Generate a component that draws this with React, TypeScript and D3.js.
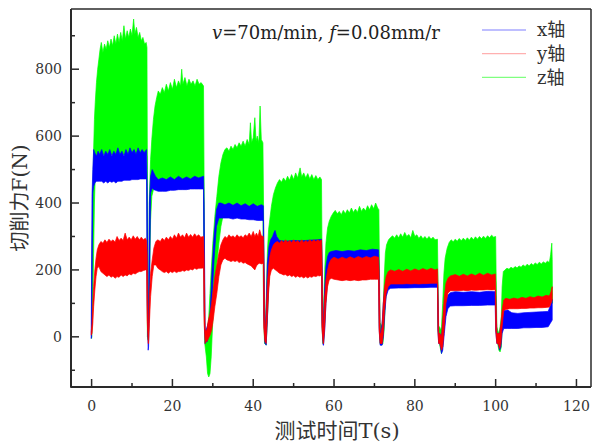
import React from "react";
import * as d3 from "d3";

// [time, low, high] envelopes of each force component
const xBand: number[][] = [
  [-0.1, -5, 5], [0.0, 0, 200], [0.1, 150, 420], [0.3, 430, 500], [0.5, 450, 560], [0.8, 460, 550],
  [1.2, 465, 540], [1.6, 465, 555], [2.0, 465, 545], [2.5, 465, 560], [3.0, 460, 540], [3.5, 465, 555],
  [4.0, 460, 545], [4.5, 465, 560], [5.0, 462, 540], [5.5, 465, 555], [6.0, 460, 545], [6.5, 465, 565],
  [7.0, 465, 545], [7.5, 465, 555], [8.0, 468, 540], [8.5, 468, 560], [9.0, 468, 545], [9.5, 468, 565],
  [10.0, 470, 550], [10.5, 470, 560], [11.0, 470, 545], [11.5, 470, 565], [12.0, 472, 550], [12.5, 472, 560],
  [13.0, 472, 550], [13.6, 472, 560], [13.75, 100, 450], [14.0, -40, 0],
  [14.1, -30, 50], [14.3, 100, 400], [14.6, 430, 480], [15.0, 445, 500], [15.4, 440, 490], [15.8, 438, 480],
  [16.5, 435, 470], [17.5, 435, 475], [18.5, 435, 470], [19.5, 438, 478], [20.5, 438, 470], [21.5, 440, 480],
  [22.5, 440, 472], [23.5, 440, 478], [24.5, 442, 472], [25.5, 442, 480], [26.5, 442, 475], [27.7, 442, 480],
  [27.85, 80, 400], [28.1, -20, 10],
  [28.3, -15, 20], [28.6, -15, 30], [29.3, 20, 60], [29.8, 120, 200], [30.3, 230, 300], [30.9, 330, 380],
  [31.5, 355, 400], [32.0, 355, 400], [33.0, 355, 395], [34.0, 355, 400], [35.0, 352, 393], [36.0, 355, 400],
  [37.0, 352, 392], [38.0, 352, 398], [39.0, 350, 390], [40.0, 350, 398], [41.0, 348, 390], [42.0, 348, 395],
  [42.5, 348, 392], [42.6, 60, 300], [42.9, -20, 10],
  [43.0, -20, 20], [43.2, -25, 80], [43.5, 50, 220], [43.9, 180, 270], [44.3, 240, 290], [44.8, 260, 300],
  [45.1, 270, 310], [45.4, 275, 318], [45.8, 265, 300], [46.5, 255, 288], [48.0, 255, 286], [50.0, 255, 288],
  [52.0, 255, 287], [54.0, 255, 289], [56.0, 255, 290], [56.9, 255, 292], [57.0, 40, 250], [57.3, -25, 10],
  [57.4, -25, 50], [57.7, 20, 150], [58.0, 100, 210], [58.4, 170, 240], [58.8, 215, 252], [59.3, 225, 255],
  [60.5, 228, 258], [62.0, 228, 255], [63.5, 228, 258], [65.0, 228, 256], [66.5, 230, 260], [68.0, 230, 258],
  [69.5, 230, 262], [71.0, 230, 260], [71.15, 30, 200], [71.4, -25, 10],
  [71.6, -25, 20], [71.9, -25, 40], [72.2, 0, 100], [72.5, 60, 140], [72.9, 120, 160], [73.4, 140, 165],
  [74.0, 145, 162], [76.0, 146, 160], [78.0, 146, 162], [80.0, 147, 160], [82.0, 147, 163], [84.0, 148, 162],
  [85.6, 148, 163], [85.7, 20, 140], [85.9, -20, 10],
  [86.2, -20, 10], [86.6, -50, 0], [86.9, -40, 40], [87.3, 10, 90], [87.7, 60, 110], [88.2, 85, 125],
  [88.8, 92, 132], [90.0, 93, 135], [92.0, 93, 133], [94.0, 94, 135], [96.0, 94, 133], [98.0, 95, 136],
  [99.9, 95, 135], [100.0, 20, 120], [100.3, -20, 10],
  [100.6, -20, 10], [101.0, -40, 10], [101.3, -30, 30], [101.6, 10, 55], [102.0, 25, 78], [103.0, 25, 80],
  [104.0, 25, 72], [105.5, 25, 70], [107.0, 27, 72], [108.5, 27, 73], [110.0, 28, 74], [111.5, 28, 75],
  [113.0, 30, 76], [113.5, 40, 92], [114.0, 50, 112],
];

const yBand: number[][] = [
  [-0.1, 5, 15], [0.1, 10, 40], [0.3, 40, 100], [0.5, 90, 150], [0.8, 140, 200], [1.1, 180, 235],
  [1.4, 205, 260], [1.8, 210, 275], [2.3, 195, 285], [2.8, 190, 280], [3.3, 185, 290], [3.8, 180, 282],
  [4.3, 185, 292], [4.8, 178, 285], [5.3, 182, 290], [5.8, 175, 283], [6.3, 180, 300], [6.8, 178, 288],
  [7.3, 185, 295], [7.8, 180, 288], [8.3, 185, 310], [8.8, 182, 290], [9.3, 188, 298], [9.8, 185, 290],
  [10.3, 190, 302], [10.8, 188, 292], [11.3, 192, 300], [11.8, 195, 290], [12.3, 195, 298], [12.8, 198, 290],
  [13.3, 200, 295], [13.6, 200, 288], [13.75, 50, 250], [14.0, -20, 20],
  [14.1, -20, 30], [14.3, 40, 120], [14.6, 120, 190], [15.0, 180, 230], [15.4, 215, 265], [15.9, 215, 285],
  [16.4, 205, 290], [17.0, 200, 285], [17.5, 195, 295], [18.0, 192, 288], [18.5, 195, 298], [19.0, 190, 290],
  [19.5, 195, 300], [20.0, 192, 292], [20.5, 196, 305], [21.0, 192, 295], [21.5, 195, 310], [22.0, 195, 298],
  [22.5, 198, 305], [23.0, 196, 296], [23.5, 200, 310], [24.0, 198, 298], [24.5, 202, 306], [25.0, 200, 298],
  [25.5, 205, 308], [26.0, 202, 300], [26.5, 205, 305], [27.0, 205, 298], [27.7, 206, 300], [27.85, 40, 240],
  [28.1, -20, 20],
  [28.2, -10, 20], [28.5, -15, 20], [28.9, -5, 50], [29.3, 5, 70], [29.7, 20, 100], [30.1, 50, 140],
  [30.5, 90, 180], [31.0, 130, 215], [31.5, 180, 250], [32.0, 215, 275], [32.5, 230, 290], [33.0, 235, 300],
  [33.5, 230, 295], [34.0, 228, 305], [34.5, 225, 298], [35.0, 228, 302], [35.5, 225, 296], [36.0, 228, 305],
  [36.5, 222, 298], [37.0, 225, 302], [37.5, 220, 296], [38.0, 222, 305], [38.5, 218, 300], [39.0, 215, 310],
  [39.5, 212, 300], [40.0, 205, 315], [40.4, 200, 300], [40.8, 212, 310], [41.2, 218, 300], [41.6, 220, 320],
  [42.0, 218, 302], [42.5, 220, 300], [42.6, 30, 250], [42.9, -15, 10],
  [43.0, -15, 20], [43.2, -20, 60], [43.5, 60, 160], [43.8, 130, 210], [44.1, 180, 240], [44.5, 200, 260],
  [45.0, 205, 275], [45.5, 200, 282], [46.0, 195, 285], [46.5, 190, 280], [47.0, 188, 288], [47.5, 185, 282],
  [48.0, 186, 290], [48.5, 182, 283], [49.0, 185, 288], [49.5, 180, 282], [50.0, 183, 290], [50.5, 178, 283],
  [51.0, 182, 288], [51.5, 178, 282], [52.0, 180, 290], [52.5, 176, 282], [53.0, 180, 288], [53.5, 176, 283],
  [54.0, 180, 290], [54.5, 178, 284], [55.0, 182, 290], [55.5, 180, 285], [56.0, 183, 290], [56.5, 182, 286],
  [56.9, 185, 290], [57.0, 30, 240], [57.3, -20, 10],
  [57.4, -20, 30], [57.7, 30, 120], [58.0, 100, 170], [58.4, 150, 200], [58.8, 170, 220], [59.3, 175, 232],
  [60.0, 172, 238], [61.0, 170, 232], [62.0, 168, 238], [63.0, 170, 233], [64.0, 168, 239], [65.0, 170, 234],
  [66.0, 168, 240], [67.0, 170, 235], [68.0, 170, 240], [69.0, 172, 236], [70.0, 172, 241], [71.0, 172, 238],
  [71.15, 20, 200], [71.4, -20, 10],
  [71.6, -20, 10], [71.9, -20, 30], [72.2, 10, 100], [72.5, 80, 150], [72.9, 130, 180], [73.4, 150, 195],
  [74.0, 158, 200], [75.0, 158, 196], [76.0, 158, 201], [77.0, 158, 196], [78.0, 159, 202], [79.0, 158, 197],
  [80.0, 159, 203], [81.0, 158, 198], [82.0, 159, 204], [83.0, 159, 199], [84.0, 160, 205], [85.0, 160, 200],
  [85.6, 160, 203], [85.7, 20, 160], [85.9, -20, 10],
  [86.2, -20, 10], [86.6, -40, 0], [86.9, -30, 50], [87.3, 30, 120], [87.7, 100, 160], [88.2, 130, 175],
  [88.8, 138, 182], [90.0, 138, 186], [91.0, 138, 181], [92.0, 139, 187], [93.0, 138, 182], [94.0, 140, 188],
  [95.0, 139, 183], [96.0, 140, 190], [97.0, 140, 184], [98.0, 141, 190], [99.0, 140, 185], [99.9, 141, 188],
  [100.0, 20, 160], [100.3, -20, 10],
  [100.6, -20, 10], [101.0, -35, 10], [101.3, -20, 40], [101.6, 30, 80], [102.0, 78, 110], [102.5, 82, 115],
  [103.5, 84, 112], [104.5, 84, 116], [105.5, 84, 113], [106.5, 85, 118], [107.5, 85, 115], [108.5, 86, 120],
  [109.5, 86, 117], [110.5, 87, 122], [111.5, 87, 119], [112.5, 88, 124], [113.3, 89, 122], [113.7, 100, 135],
  [114.0, 110, 150],
];

const zBand: number[][] = [
  [0.0, -5, 10], [0.1, 20, 250], [0.3, 100, 420], [0.5, 250, 560], [0.7, 400, 650], [0.9, 480, 700],
  [1.2, 520, 760], [1.5, 540, 800], [1.8, 545, 830], [2.1, 545, 860], [2.4, 545, 880], [2.8, 545, 850],
  [3.2, 545, 875], [3.6, 545, 860], [4.0, 545, 885], [4.4, 545, 865], [4.8, 545, 890], [5.2, 545, 870],
  [5.6, 545, 900], [6.0, 545, 875], [6.4, 545, 905], [6.8, 545, 880], [7.2, 545, 910], [7.6, 545, 885],
  [8.0, 545, 930], [8.4, 545, 890], [8.8, 545, 915], [9.2, 545, 895], [9.6, 545, 920], [10.0, 545, 900],
  [10.4, 545, 950], [10.7, 545, 905], [11.1, 545, 925], [11.5, 545, 895], [11.9, 545, 910], [12.3, 545, 885],
  [12.7, 545, 895], [13.1, 545, 875], [13.5, 545, 880], [13.7, 540, 865], [13.8, 0, 500], [13.95, -10, 10],
  [14.1, -10, 100], [14.3, 150, 420], [14.6, 350, 530], [14.9, 420, 590], [15.3, 440, 650], [15.7, 450, 690],
  [16.1, 455, 715], [16.5, 460, 735], [17.0, 460, 725], [17.5, 460, 745], [18.0, 460, 730], [18.5, 460, 755],
  [19.0, 460, 735], [19.5, 460, 760], [20.0, 460, 740], [20.5, 460, 770], [21.0, 460, 745], [21.5, 460, 765],
  [22.0, 460, 750], [22.3, 460, 800], [22.6, 460, 755], [23.1, 460, 775], [23.6, 460, 750], [24.1, 460, 770],
  [24.6, 460, 755], [25.1, 460, 765], [25.6, 460, 750], [26.1, 460, 770], [26.6, 460, 755], [27.1, 460, 760],
  [27.7, 460, 750], [27.85, 100, 450], [28.0, -20, 50],
  [28.1, -30, 20], [28.4, -60, 0], [28.7, -110, 20], [29.0, -120, 60], [29.3, -110, 130], [29.6, -60, 200],
  [30.0, 50, 280], [30.5, 150, 360], [31.0, 220, 420], [31.5, 280, 480], [32.0, 330, 520], [32.5, 360, 545],
  [33.0, 370, 560], [33.5, 375, 565], [34.0, 375, 555], [34.5, 375, 570], [35.0, 375, 560], [35.5, 375, 575],
  [36.0, 375, 565], [36.5, 375, 580], [37.0, 375, 570], [37.5, 375, 585], [38.0, 375, 570], [38.5, 375, 590],
  [39.0, 375, 575], [39.3, 375, 640], [39.6, 375, 580], [40.0, 375, 595], [40.4, 375, 655], [40.7, 375, 585],
  [41.0, 375, 600], [41.4, 375, 580], [41.7, 375, 690], [42.0, 375, 590], [42.4, 375, 580], [42.55, 80, 400],
  [42.8, -20, 30],
  [43.0, -20, 30], [43.2, -25, 100], [43.5, 50, 250], [43.8, 150, 320], [44.1, 200, 350], [44.5, 240, 390],
  [45.0, 260, 425], [45.5, 265, 445], [46.0, 265, 460], [46.5, 265, 470], [47.0, 265, 462], [47.5, 265, 475],
  [48.0, 265, 465], [48.5, 265, 480], [49.0, 265, 468], [49.5, 265, 485], [50.0, 265, 470], [50.5, 265, 490],
  [51.0, 265, 475], [51.6, 265, 505], [52.0, 265, 478], [52.5, 265, 490], [53.0, 265, 475], [53.5, 265, 488],
  [54.0, 265, 472], [54.5, 265, 485], [55.0, 265, 470], [55.5, 265, 482], [56.0, 265, 470], [56.5, 265, 478],
  [56.9, 265, 470], [57.0, 50, 300], [57.2, -20, 20],
  [57.4, -20, 80], [57.7, 40, 200], [58.0, 120, 280], [58.4, 180, 325], [58.8, 210, 345], [59.3, 225, 360],
  [59.8, 230, 370], [60.3, 230, 378], [60.8, 230, 368], [61.3, 230, 375], [61.8, 230, 365], [62.3, 230, 378],
  [62.8, 230, 368], [63.3, 230, 380], [63.8, 230, 370], [64.3, 230, 385], [64.8, 230, 372], [65.3, 230, 382],
  [65.8, 230, 372], [66.3, 230, 390], [66.8, 230, 375], [67.3, 230, 385], [67.8, 230, 376], [68.3, 230, 392],
  [68.8, 230, 380], [69.3, 230, 395], [69.8, 230, 383], [70.3, 230, 400], [70.8, 230, 385], [71.1, 230, 380],
  [71.2, 40, 250], [71.4, -20, 20],
  [71.5, -10, 40], [71.8, -25, 30], [72.1, -20, 60], [72.4, 20, 170], [72.7, 100, 250], [73.0, 140, 275],
  [73.5, 165, 290], [74.0, 175, 297], [74.5, 180, 302], [75.0, 180, 295], [75.5, 180, 305], [76.0, 180, 296],
  [76.5, 180, 308], [77.0, 180, 298], [77.5, 180, 312], [78.0, 180, 300], [78.5, 180, 306], [79.0, 180, 296],
  [79.5, 180, 318], [80.0, 180, 300], [80.5, 180, 305], [81.0, 180, 294], [81.5, 180, 302], [82.0, 180, 293],
  [82.5, 180, 300], [83.0, 180, 292], [83.5, 180, 300], [84.0, 180, 292], [84.5, 180, 298], [85.0, 180, 290],
  [85.6, 180, 292], [85.7, 40, 200], [85.9, -10, 30],
  [86.1, -20, 30], [86.4, -40, 20], [86.6, -50, 30], [86.9, -30, 100], [87.2, 30, 190], [87.5, 90, 235],
  [88.0, 140, 265], [88.5, 160, 282], [89.0, 165, 290], [89.5, 165, 284], [90.0, 165, 292], [90.5, 165, 286],
  [91.0, 165, 294], [91.5, 165, 287], [92.0, 165, 295], [92.5, 165, 288], [93.0, 165, 296], [93.5, 165, 289],
  [94.0, 165, 298], [94.5, 165, 290], [95.0, 165, 299], [95.5, 165, 292], [96.0, 165, 300], [96.5, 165, 293],
  [97.0, 165, 301], [97.5, 165, 294], [98.0, 165, 302], [98.5, 165, 296], [99.0, 165, 304], [99.5, 165, 298],
  [100.0, 165, 300], [100.1, 40, 200], [100.3, -10, 30],
  [100.5, -20, 20], [100.8, -40, 10], [101.1, -45, 30], [101.4, -30, 60], [101.6, 20, 150], [101.9, 80, 195],
  [102.3, 100, 200], [102.8, 100, 205], [103.3, 100, 202], [103.8, 100, 208], [104.3, 100, 204], [104.8, 100, 210],
  [105.3, 100, 206], [105.8, 100, 212], [106.3, 100, 208], [106.8, 100, 215], [107.3, 100, 210], [107.8, 100, 217],
  [108.3, 100, 212], [108.8, 100, 219], [109.3, 100, 214], [109.8, 100, 221], [110.3, 100, 216], [110.8, 100, 223],
  [111.3, 100, 218], [111.8, 100, 224], [112.3, 100, 220], [112.8, 100, 226], [113.3, 100, 222], [113.6, 110, 245],
  [113.9, 130, 280], [114.0, 120, 230], [114.05, 100, 140],
];

const seriesNames = ["x轴", "y轴", "z轴"];
const seriesColors = ["#0000ff", "#ff0000", "#00ff00"];
const legendColors = ["#7f7fff", "#ffb0b0", "#80ff80"];
const xTicks = [0, 20, 40, 60, 80, 100, 120];
const xMinor = [10, 30, 50, 70, 90, 110];
const yTicks = [0, 200, 400, 600, 800];
const yMinor = [-100, 100, 300, 500, 700, 900];

const W = 592, H = 444;
const left = 71, right = 591, top = 9, bottom = 387;
const FONT = "'DejaVu Serif', 'Noto Sans CJK SC', serif";

export default function App() {
  const x = d3.scaleLinear().domain([-5.1, 123.6]).range([left, right]);
  const y = d3.scaleLinear().domain([-150, 980]).range([bottom, top]);
  const area = d3
    .area<number[]>()
    .x((d) => x(d[0]))
    .y0((d) => y(d[1]))
    .y1((d) => y(d[2]));
  // drawing order: z, x, y
  const layers = [
    { data: zBand, color: seriesColors[2] },
    { data: xBand, color: seriesColors[0] },
    { data: yBand, color: seriesColors[1] },
  ];
  const axisColor = "#2a2a2a";
  return (
    <svg width={W} height={H} style={{ position: "absolute", left: 0, top: 0, background: "#fff" }}>
      <defs>
        <clipPath id="plotclip">
          <rect x={left} y={top} width={right - left} height={bottom - top} />
        </clipPath>
      </defs>
      <rect x={0} y={0} width={W} height={H} fill="#fff" />
      <g clipPath="url(#plotclip)">
        {layers.map((l, i) => (
          <path key={i} d={area(l.data) || ""} fill={l.color} stroke={l.color} strokeWidth={0.7} strokeLinejoin="round" />
        ))}
      </g>
      {/* frame */}
      <line x1={left} x2={right} y1={top} y2={top} stroke={axisColor} strokeWidth={1.5} />
      <line x1={right} x2={right} y1={top} y2={bottom} stroke={axisColor} strokeWidth={1.5} />
      <line x1={left} x2={left} y1={top} y2={bottom + 0.75} stroke={axisColor} strokeWidth={2} />
      <line x1={left} x2={right} y1={bottom} y2={bottom} stroke={axisColor} strokeWidth={2} />
      {/* x ticks */}
      {xTicks.map((t) => (
        <g key={"xt" + t}>
          <line x1={x(t)} x2={x(t)} y1={bottom} y2={bottom - 8} stroke={axisColor} strokeWidth={1.5} />
          <text x={x(t)} y={411} textAnchor="middle" fontFamily={FONT} fontSize={14} fill="#333">
            {t}
          </text>
        </g>
      ))}
      {xMinor.map((t) => (
        <line key={"xm" + t} x1={x(t)} x2={x(t)} y1={bottom} y2={bottom - 4} stroke={axisColor} strokeWidth={1.5} />
      ))}
      {/* y ticks */}
      {yTicks.map((t) => (
        <g key={"yt" + t}>
          <line x1={left} x2={left + 8} y1={y(t)} y2={y(t)} stroke={axisColor} strokeWidth={1.5} />
          <text x={62} y={y(t)} dy="0.36em" textAnchor="end" fontFamily={FONT} fontSize={14} fill="#333">
            {t}
          </text>
        </g>
      ))}
      {yMinor.map((t) => (
        <line key={"ym" + t} x1={left} x2={left + 4} y1={y(t)} y2={y(t)} stroke={axisColor} strokeWidth={1.5} />
      ))}
      {/* axis titles */}
      <text x={337} y={438} textAnchor="middle" fontFamily={FONT} fontSize={21} fill="#333">
        测试时间T(s)
      </text>
      <text
        transform={`translate(27, ${(top + bottom) / 2}) rotate(-90)`}
        textAnchor="middle"
        fontFamily={FONT}
        fontSize={20}
        fill="#333"
      >
        切削力F(N)
      </text>
      {/* annotation */}
      <text x={212} y={39} fontFamily={FONT} fontSize={18} fill="#222">
        <tspan fontStyle="italic">v</tspan>
        <tspan>=70m/min, </tspan>
        <tspan fontStyle="italic">f</tspan>
        <tspan>=0.08mm/r</tspan>
      </text>
      {/* legend */}
      {seriesNames.map((n, i) => (
        <g key={n}>
          <line x1={482} x2={526} y1={30 + i * 23.7} y2={30 + i * 23.7} stroke={legendColors[i]} strokeWidth={1.2} />
          <text x={537} y={30 + i * 23.7} dy="0.35em" fontFamily={FONT} fontSize={18} fill="#333">
            {n}
          </text>
        </g>
      ))}
    </svg>
  );
}
